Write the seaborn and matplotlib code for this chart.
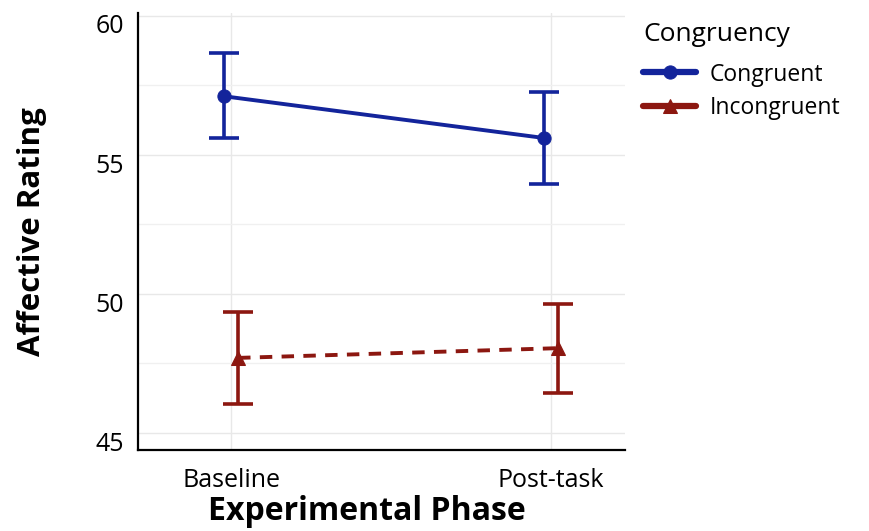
import pandas as pd
import seaborn as sns
import numpy as np
import matplotlib.pyplot as plt
import matplotlib.transforms as mtransforms
from matplotlib.ticker import MultipleLocator

phases = ['Baseline', 'Post-task']
groups = ['Congruent', 'Incongruent']

congruent_mean = [57.1, 55.6]
congruent_lo = [55.6, 53.95]
congruent_hi = [58.65, 57.25]

incongruent_mean = [47.7, 48.05]
incongruent_lo = [46.05, 46.45]
incongruent_hi = [49.35, 49.65]

colors = ['#13249b', '#8c1710']

df = pd.DataFrame({
    'phase': phases * 2,
    'congruency': [groups[0]] * 2 + [groups[1]] * 2,
    'rating': congruent_mean + incongruent_mean,
    'lo': congruent_lo + incongruent_lo,
    'hi': congruent_hi + incongruent_hi,
})

sns.set_style('white')
plt.rcParams['font.family'] = ['Open Sans', 'DejaVu Sans']

fig = plt.figure(figsize=(8.69, 5.31), dpi=100)
ax = fig.add_axes([0.159, 0.153, 0.56, 0.823])

offsets = {'Congruent': -0.022, 'Incongruent': 0.022}
markers = {'Congruent': 'o', 'Incongruent': '^'}
styles = {'Congruent': '-', 'Incongruent': (0, (3.2, 2.4))}

for g, col in zip(groups, colors):
    sub = df[df.congruency == g]
    xpos = np.arange(len(phases)) + offsets[g]
    ax.errorbar(xpos, sub['rating'],
                yerr=[sub['rating'] - sub['lo'], sub['hi'] - sub['rating']],
                fmt='none', ecolor=col, elinewidth=2.6, capsize=11, capthick=2.6, zorder=3)
    sns.lineplot(x=xpos, y=sub['rating'].values, ax=ax, color=col, lw=2.8,
                 linestyle=styles[g], marker=markers[g], markersize=9.5,
                 markeredgecolor=col, label=g, zorder=4)

ax.set_xticks(range(len(phases)))
ax.set_xticklabels(phases)
ax.set_xlim(-0.29, 1.23)
ax.set_ylim(44.4, 60.1)
ax.yaxis.set_major_locator(MultipleLocator(5))
ax.yaxis.set_minor_locator(MultipleLocator(2.5))
ax.grid(True, which='major', color='#e8e8e8', lw=1.0)
ax.grid(True, which='minor', axis='y', color='#f0f0f0', lw=1.0)
ax.set_axisbelow(True)

for s in ['top', 'right']:
    ax.spines[s].set_visible(False)
for s in ['left', 'bottom']:
    ax.spines[s].set_color('black')
    ax.spines[s].set_linewidth(1.6)

ax.tick_params(axis='y', which='both', length=0, labelsize=18, colors='black', pad=10)
ax.tick_params(axis='x', which='both', length=0, labelsize=18, colors='black', pad=13)
# y tick labels sit a little below their gridlines in the original
shift = mtransforms.ScaledTranslation(0, -6 / 72, fig.dpi_scale_trans)
for lab in ax.get_yticklabels():
    lab.set_transform(lab.get_transform() + shift)

ax.set_xlabel('Experimental Phase', fontsize=23, fontweight='bold', color='black')
ax.set_ylabel('Affective Rating', fontsize=22.5, fontweight='bold', color='black')
ax.xaxis.set_label_coords(0.47, -0.103)
ax.yaxis.set_label_coords(-0.187, 0.5)

leg = ax.legend(title='Congruency', loc='upper left', bbox_to_anchor=(1.005, 1.015),
                frameon=False, fontsize=16.5, title_fontsize=19,
                handlelength=2.3, handletextpad=0.6, labelspacing=0.42, borderaxespad=0.3)
leg._legend_box.align = 'left'
leg._legend_box.sep = 11
for t in leg.get_texts():
    t.set_color('black')
leg.get_title().set_color('black')
for h in leg.legend_handles:
    h.set_linestyle('-')
    h.set_linewidth(4.5)

fig.savefig('out.png', dpi=100)
